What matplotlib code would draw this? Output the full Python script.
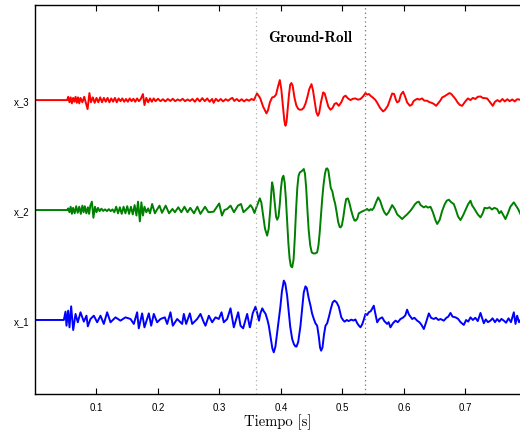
import numpy as np
import matplotlib.pyplot as plt

# trace offsets and labels
offsets = [1, 2, 3]
trace_labels = ["x_1", "x_2", "x_3"]
trace_colors = ["#0000ff", "#008000", "#ff0000"]
xticks = [0.1, 0.2, 0.3, 0.4, 0.5, 0.6, 0.7]
roll_start, roll_end = 0.36, 0.536

# (time [s], amplitude)
x3_pts = [
    (0.000, 0.0), (0.0523, 0.0),
    (0.054, 0.03), (0.056, -0.02), (0.058, 0.025), (0.060, -0.03), (0.062, 0.02), (0.064, -0.015),
    (0.066, 0.03), (0.068, -0.025), (0.070, 0.025), (0.072, -0.03), (0.074, 0.02), (0.077, -0.02),
    (0.080, 0.03), (0.083, -0.03), (0.0855, -0.082), (0.0885, 0.064), (0.091, -0.02), (0.094, 0.025),
    (0.097, -0.025), (0.100, 0.02), (0.103, -0.02), (0.106, 0.025), (0.109, -0.02), (0.112, 0.02),
    (0.115, -0.015), (0.118, 0.02), (0.121, -0.02), (0.124, 0.015), (0.127, -0.015), (0.130, 0.02),
    (0.133, -0.02), (0.136, 0.015), (0.139, -0.01), (0.142, 0.015), (0.145, -0.015), (0.148, 0.01),
    (0.151, -0.015), (0.154, 0.015), (0.157, -0.01), (0.160, 0.012), (0.163, -0.015), (0.166, 0.015),
    (0.169, -0.01), (0.172, 0.01), (0.1755, 0.055), (0.178, -0.045), (0.181, 0.02), (0.184, -0.02),
    (0.187, 0.015), (0.190, -0.015), (0.193, 0.015), (0.196, -0.01), (0.200, 0.012), (0.204, -0.01),
    (0.208, 0.008), (0.212, -0.012), (0.216, 0.01), (0.220, -0.008), (0.224, 0.012), (0.228, -0.01),
    (0.232, 0.006), (0.236, -0.006), (0.240, 0.012), (0.244, -0.01), (0.248, 0.006), (0.252, -0.008),
    (0.256, 0.01), (0.260, -0.015), (0.264, 0.015), (0.268, -0.012), (0.272, 0.018), (0.276, -0.01),
    (0.280, 0.015), (0.284, -0.015), (0.288, 0.01), (0.2905, -0.025), (0.294, 0.012), (0.298, -0.01),
    (0.302, 0.01), (0.306, -0.012), (0.310, 0.008), (0.314, -0.006), (0.318, 0.012), (0.321, 0.02),
    (0.324, -0.008), (0.328, 0.01), (0.332, -0.01), (0.336, 0.008), (0.340, -0.012), (0.344, 0.006),
    (0.348, -0.006), (0.352, 0.01), (0.356, 0.0),
    (0.361, 0.06), (0.366, 0.02), (0.371, -0.06), (0.3764, -0.121), (0.379, -0.09), (0.382, -0.02),
    (0.3856, 0.024), (0.389, 0.03), (0.392, 0.05), (0.395, 0.12), (0.3981, 0.182), (0.4005, 0.10),
    (0.403, -0.05), (0.4055, -0.19), (0.4073, -0.233), (0.409, -0.2), (0.411, -0.08), (0.413, 0.05),
    (0.415, 0.14), (0.417, 0.155), (0.419, 0.13), (0.422, 0.02), (0.425, -0.05), (0.428, -0.08),
    (0.4306, -0.088), (0.434, -0.086), (0.437, -0.07), (0.440, -0.03), (0.443, 0.03), (0.446, 0.10),
    (0.4496, 0.145), (0.452, 0.09), (0.455, -0.02), (0.4575, -0.11), (0.460, -0.142), (0.462, -0.12),
    (0.465, -0.02), (0.4686, 0.07), (0.471, 0.06), (0.474, 0.0), (0.477, -0.06), (0.4805, -0.088),
    (0.484, -0.07), (0.487, -0.035), (0.4902, -0.027), (0.494, -0.052), (0.498, -0.02), (0.502, 0.03),
    (0.505, 0.04), (0.509, 0.015), (0.513, 0.0), (0.517, 0.012), (0.521, 0.015), (0.525, 0.004),
    (0.529, 0.009), (0.533, 0.03),
    (0.5374, 0.064), (0.540, 0.05), (0.543, 0.055), (0.5455, 0.04), (0.549, 0.025), (0.5537, 0.0),
    (0.557, -0.03), (0.561, -0.07), (0.566, -0.103), (0.569, -0.09), (0.5737, -0.052), (0.577, 0.0),
    (0.5808, 0.06), (0.584, 0.055), (0.587, 0.0), (0.589, -0.021), (0.592, -0.01), (0.595, 0.05),
    (0.5986, 0.076), (0.602, 0.03), (0.605, -0.02), (0.6095, -0.052), (0.613, -0.04), (0.6155, -0.01),
    (0.6187, 0.003), (0.622, 0.012), (0.625, 0.004), (0.6295, 0.015), (0.633, -0.005), (0.6377, -0.006),
    (0.641, -0.018), (0.645, -0.025), (0.6485, -0.035), (0.6523, -0.052), (0.6555, -0.03),
    (0.659, -0.005), (0.6621, 0.024), (0.666, 0.035), (0.670, 0.05), (0.674, 0.064), (0.677, 0.055),
    (0.680, 0.035), (0.6838, 0.009), (0.687, -0.02), (0.691, -0.045), (0.6946, -0.052),
    (0.700, -0.01), (0.704, 0.015), (0.708, 0.0), (0.712, 0.02), (0.716, 0.01), (0.720, 0.03),
    (0.7244, 0.033), (0.728, 0.02), (0.7352, 0.015), (0.740, -0.02), (0.7444, -0.052), (0.748, -0.015),
    (0.752, 0.0), (0.756, -0.015), (0.760, 0.01), (0.764, -0.012), (0.768, 0.008), (0.772, -0.01),
    (0.776, 0.006), (0.780, -0.012), (0.784, 0.008), (0.7894, 0.003),
]

x2_pts = [
    (0.000, 0.0), (0.0523, 0.0),
    (0.054, 0.015), (0.056, -0.02), (0.058, 0.03), (0.060, -0.035), (0.062, 0.02), (0.0645, -0.03),
    (0.067, 0.035), (0.0695, -0.025), (0.072, 0.03), (0.0745, -0.035), (0.077, 0.04), (0.079, -0.02),
    (0.081, 0.035), (0.0835, -0.03), (0.086, 0.025), (0.088, -0.035), (0.090, 0.04), (0.0925, 0.076),
    (0.095, -0.07), (0.0975, 0.03), (0.100, -0.02), (0.1025, 0.02), (0.105, -0.01), (0.108, 0.012),
    (0.111, -0.008), (0.114, 0.006), (0.117, -0.01), (0.120, 0.008), (0.123, -0.01), (0.126, 0.006),
    (0.129, -0.02), (0.132, 0.03), (0.135, -0.03), (0.138, 0.025), (0.141, -0.035), (0.144, 0.03),
    (0.147, -0.03), (0.150, 0.035), (0.153, -0.035), (0.156, 0.03), (0.159, -0.04), (0.162, 0.045),
    (0.165, -0.05), (0.1675, 0.076), (0.1705, -0.103), (0.173, 0.07), (0.1755, -0.05), (0.178, 0.03),
    (0.181, -0.02), (0.184, 0.015), (0.187, -0.03), (0.1905, 0.055), (0.195, -0.03), (0.198, 0.0),
    (0.2025, 0.04), (0.2065, -0.025), (0.2125, 0.04), (0.218, -0.03), (0.2235, 0.01), (0.2275, -0.02),
    (0.233, 0.025), (0.238, -0.02), (0.243, 0.03), (0.248, -0.02), (0.2525, 0.02), (0.2585, -0.03),
    (0.264, 0.03), (0.269, -0.035), (0.2765, 0.03), (0.282, -0.02), (0.2905, -0.015), (0.2995, 0.06),
    (0.304, -0.05), (0.308, 0.0), (0.3125, 0.01), (0.318, 0.04), (0.3235, -0.02), (0.330, 0.04),
    (0.335, 0.055), (0.339, -0.02), (0.3475, 0.025),
    (0.3504, 0.045), (0.3535, 0.02), (0.3569, -0.027), (0.361, 0.04), (0.3656, 0.106), (0.368, 0.07),
    (0.371, -0.05), (0.374, -0.17), (0.3775, -0.233), (0.380, -0.17), (0.3825, 0.0), (0.3845, 0.18),
    (0.3856, 0.252), (0.3875, 0.2), (0.390, 0.05), (0.392, -0.06), (0.3938, -0.088), (0.396, -0.06),
    (0.398, 0.05), (0.400, 0.2), (0.402, 0.29), (0.404, 0.312), (0.406, 0.25), (0.408, 0.1),
    (0.410, -0.1), (0.412, -0.3), (0.414, -0.44), (0.416, -0.51), (0.4182, -0.521), (0.4205, -0.45),
    (0.4225, -0.25), (0.4245, 0.0), (0.4265, 0.2), (0.4285, 0.31), (0.4306, 0.342), (0.434, 0.355),
    (0.4371, 0.373), (0.439, 0.33), (0.441, 0.2), (0.443, 0.0), (0.445, -0.18), (0.4475, -0.32),
    (0.450, -0.385), (0.4523, -0.394), (0.4555, -0.395), (0.4588, -0.385), (0.461, -0.32),
    (0.463, -0.2), (0.465, -0.05), (0.467, 0.1), (0.469, 0.22), (0.4715, 0.33), (0.4735, 0.375),
    (0.4751, 0.379), (0.477, 0.36), (0.479, 0.28), (0.481, 0.2), (0.4835, 0.17), (0.486, 0.1),
    (0.488, 0.06), (0.4905, -0.02), (0.493, -0.11), (0.4955, -0.155), (0.4968, -0.158),
    (0.499, -0.14), (0.5015, -0.06), (0.504, 0.04), (0.506, 0.1), (0.5088, 0.106), (0.511, 0.07),
    (0.514, 0.0), (0.517, -0.06), (0.5195, -0.095), (0.5212, -0.097), (0.524, -0.08), (0.5265, -0.03),
    (0.5293, -0.021), (0.533, -0.01),
    (0.5374, 0.0), (0.540, 0.01), (0.543, -0.005), (0.546, 0.008), (0.5482, 0.0), (0.551, 0.02),
    (0.5545, 0.07), (0.558, 0.115), (0.5615, 0.08), (0.565, 0.02), (0.568, -0.02), (0.5715, -0.045),
    (0.575, -0.02), (0.5808, 0.045), (0.585, 0.01), (0.589, -0.04), (0.593, -0.06), (0.597, -0.082),
    (0.601, -0.06), (0.605, -0.04), (0.6106, -0.006), (0.614, 0.02), (0.6175, 0.05), (0.621, 0.07),
    (0.6241, 0.076), (0.627, 0.045), (0.6323, 0.024), (0.6355, 0.035), (0.639, 0.022), (0.6431, 0.03),
    (0.647, -0.02), (0.651, -0.09), (0.654, -0.127), (0.658, -0.09), (0.662, -0.01), (0.666, 0.05),
    (0.6695, 0.085), (0.6729, 0.094), (0.677, 0.07), (0.681, 0.055), (0.6845, 0.0), (0.688, -0.06),
    (0.6919, -0.091), (0.696, -0.05), (0.700, 0.0), (0.704, 0.05), (0.7081, 0.085), (0.711, 0.04),
    (0.7135, 0.02), (0.7163, -0.006), (0.720, -0.04), (0.7244, -0.067), (0.728, -0.03), (0.731, 0.02),
    (0.7352, 0.015), (0.739, 0.025), (0.743, 0.005), (0.747, 0.02), (0.7515, 0.009), (0.755, -0.03),
    (0.758, -0.01), (0.762, -0.05), (0.765, -0.082), (0.769, -0.03), (0.773, 0.03), (0.7786, 0.07),
    (0.782, 0.04), (0.7855, 0.01), (0.7894, -0.036),
]

x1_pts = [
    (0.000, 0.0), (0.0469, 0.0),
    (0.0496, 0.076), (0.0512, -0.052), (0.0539, 0.085), (0.0561, -0.067), (0.0588, 0.124),
    (0.0621, -0.091), (0.0659, 0.055), (0.0696, -0.021), (0.074, 0.07), (0.0794, -0.015),
    (0.0837, 0.039), (0.0859, -0.058), (0.0902, 0.009), (0.0957, 0.039), (0.1011, -0.021),
    (0.1065, 0.039), (0.1119, -0.036), (0.1173, 0.07), (0.1228, -0.021), (0.1309, 0.024),
    (0.139, -0.006), (0.1471, 0.024), (0.1553, 0.009), (0.1607, -0.036), (0.1661, 0.07),
    (0.1688, -0.076), (0.1742, 0.06), (0.178, -0.067), (0.1851, 0.06), (0.1889, -0.052),
    (0.1932, 0.055), (0.1986, -0.021), (0.2041, 0.009), (0.2111, 0.024), (0.2149, -0.036),
    (0.2203, 0.07), (0.2241, -0.052), (0.2312, 0.009), (0.2393, -0.036), (0.242, 0.055),
    (0.2458, -0.036), (0.2518, 0.06), (0.2556, -0.036), (0.2637, 0.009), (0.2691, 0.055),
    (0.2745, -0.021), (0.2772, -0.052), (0.2827, 0.039), (0.2881, -0.021), (0.2935, 0.024),
    (0.2989, 0.009), (0.3033, 0.07), (0.307, -0.021), (0.3125, 0.009), (0.3179, 0.106),
    (0.3233, -0.067), (0.3304, 0.07), (0.3342, -0.052), (0.3385, -0.076), (0.345, 0.055),
    (0.3493, -0.067),
    (0.3504, -0.045), (0.354, 0.06), (0.3585, 0.121), (0.361, 0.07), (0.3642, -0.006),
    (0.3665, 0.06), (0.3696, 0.106), (0.372, 0.08), (0.375, 0.055), (0.378, 0.0), (0.3802, -0.052),
    (0.383, -0.15), (0.386, -0.26), (0.3883, -0.294), (0.391, -0.24), (0.3935, -0.13), (0.3965, 0.0),
    (0.399, 0.12), (0.4015, 0.26), (0.4046, 0.358), (0.407, 0.33), (0.410, 0.221), (0.4125, 0.08),
    (0.415, -0.06), (0.4182, -0.173), (0.421, -0.22), (0.4235, -0.24), (0.4252, -0.242),
    (0.428, -0.2), (0.4317, -0.052), (0.434, 0.08), (0.437, 0.25), (0.4398, 0.306), (0.442, 0.29),
    (0.445, 0.2), (0.448, 0.13), (0.4505, 0.06), (0.4534, 0.009), (0.456, -0.03), (0.4588, -0.052),
    (0.4615, -0.15), (0.4635, -0.25), (0.4653, -0.279), (0.4675, -0.25), (0.470, -0.13),
    (0.4724, -0.052), (0.4751, -0.03), (0.478, 0.03), (0.481, 0.1), (0.484, 0.16), (0.487, 0.176),
    (0.4905, 0.16), (0.494, 0.12),
    (0.4981, 0.024), (0.5015, -0.005), (0.5035, -0.015), (0.507, 0.0), (0.510, -0.01), (0.5143, 0.003),
    (0.518, -0.005), (0.521, 0.005), (0.524, -0.03), (0.5265, -0.05), (0.5293, -0.067), (0.532, -0.04),
    (0.5345, 0.0), (0.5374, 0.055), (0.540, 0.045), (0.5428, 0.07), (0.546, 0.08), (0.5509, 0.13),
    (0.553, 0.07), (0.5564, -0.021), (0.560, 0.01), (0.5645, 0.024), (0.568, -0.01), (0.5726, -0.036),
    (0.575, -0.02), (0.578, -0.067), (0.582, -0.03), (0.5862, -0.006), (0.590, -0.02), (0.5943, 0.009),
    (0.598, 0.02), (0.602, 0.04), (0.6051, 0.094), (0.608, 0.05), (0.6133, 0.009), (0.617, 0.02),
    (0.6214, -0.006), (0.625, -0.02), (0.628, -0.04), (0.6323, -0.082), (0.636, -0.02), (0.6404, 0.06),
    (0.644, 0.02), (0.6485, 0.009), (0.652, 0.02), (0.656, 0.0), (0.6594, 0.009), (0.6648, -0.006),
    (0.669, 0.02), (0.672, 0.03), (0.6756, 0.064), (0.679, 0.03), (0.6838, 0.024),
    (0.688, 0.01), (0.692, -0.02), (0.6973, -0.045), (0.701, 0.0), (0.7045, -0.015), (0.7081, 0.024),
    (0.712, 0.0), (0.716, 0.02), (0.720, -0.01), (0.7244, 0.064), (0.7298, -0.03), (0.733, 0.005),
    (0.7365, -0.02), (0.7406, -0.006), (0.744, 0.015), (0.748, -0.02), (0.7515, 0.009),
    (0.755, -0.015), (0.7585, 0.01), (0.7623, -0.006), (0.766, -0.025), (0.770, 0.015),
    (0.774, -0.02), (0.7786, 0.07), (0.7813, -0.036), (0.784, 0.039), (0.787, -0.02), (0.7894, 0.0),
]

fig = plt.figure(figsize=(5.2, 4.35), dpi=100)
ax = fig.add_axes([0.0673, 0.092, 0.935, 0.894])

for off, pts, col in zip(offsets, [x1_pts, x2_pts, x3_pts], trace_colors):
    t, a = np.array(pts).T
    ax.plot(t, off + a, color=col, lw=1.4)

ax.axvline(roll_start, color="#b0b0b0", lw=0.9, ls=(0, (1, 2.5)))
ax.axvline(roll_end, color="#707070", lw=0.9, ls=(0, (1, 2.5)))
ax.text((roll_start + roll_end) / 2, 3.57, "Ground-Roll", family="cmb10",
        fontsize=11, ha="center", va="center")

ax.set_xlim(0, 0.7906)
ax.set_ylim(0.327, 3.864)
ax.set_xticks(xticks)
ax.set_xticklabels([f"{v:.1f}" for v in xticks], family="Liberation Sans", fontsize=7)
ax.set_yticks(offsets)
ax.set_yticklabels(trace_labels, family="Liberation Sans", fontsize=7)
ax.tick_params(axis="x", direction="in", length=4, width=0.8, top=True, pad=6)
ax.tick_params(axis="y", length=0, pad=4)
for s in ax.spines.values():
    s.set_linewidth(1.0)
ax.set_xlabel("Tiempo [s]", family="cmr10", fontsize=10.5, labelpad=1)

fig.savefig("out.png", dpi=100)
